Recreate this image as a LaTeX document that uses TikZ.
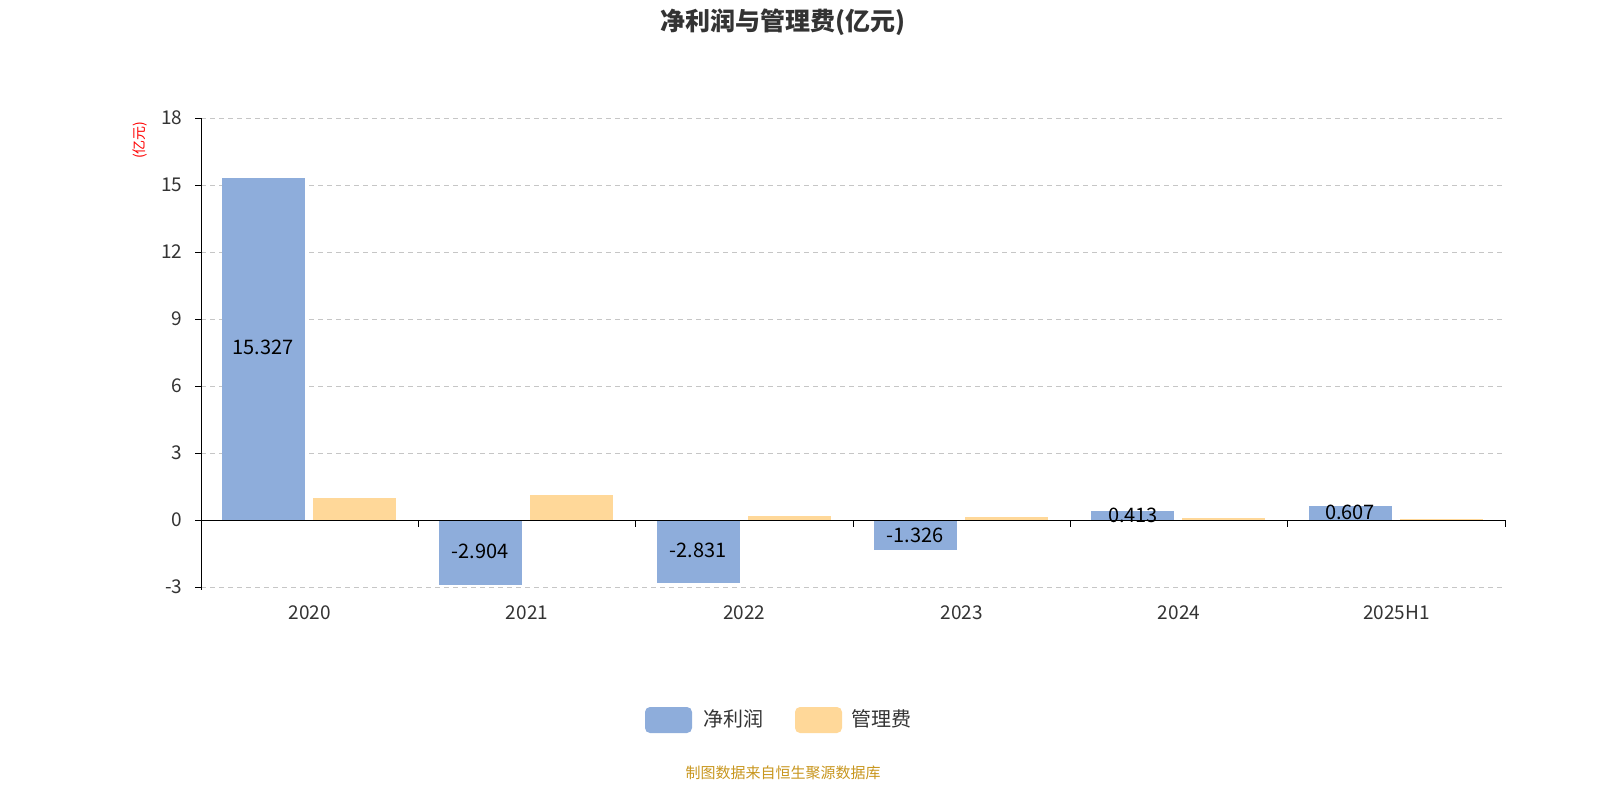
\documentclass[tikz,border=0pt]{standalone}
\usepackage{fontspec}
\setmainfont{Noto Sans CJK SC}
\definecolor{bblue}{HTML}{8EADDB}
\definecolor{borange}{HTML}{FFD899}
\definecolor{txt}{HTML}{333333}
\begin{document}
\begin{tikzpicture}[x=1pt,y=-1pt,
  grid/.style={draw=gray!45,dashed,dash pattern=on 5pt off 4pt,line width=1pt},
  ylab/.style={anchor=east,font=\fontsize{19}{19}\selectfont,text=txt},
  xlab/.style={anchor=center,font=\fontsize{19}{19}\selectfont,text=txt},
  vlab/.style={anchor=center,font=\fontsize{20}{20}\selectfont,text=black},
  blue/.style={fill=bblue,draw=none},
  orng/.style={fill=borange,draw=none}]
\useasboundingbox (0,0) rectangle (1600,800);
\def\u{22.333}
% grid
\foreach \v in {18,15,12,9,6,3,-3}{
  \draw[grid] (201,{520-\v*\u}) -- (1505,{520-\v*\u});
  \node[ylab] at (186,{520-\v*\u}) {\v};
}
\node[ylab] at (186,520) {0};
% bars
\foreach \i/\b/\o/\lab in {0/15.327/0.98/2020,1/-2.904/1.12/2021,2/-2.831/0.2/2022,3/-1.326/0.12/2023,4/0.413/0.08/2024,5/0.607/0.05/2025H1}{
  \pgfmathsetmacro{\gx}{201+\i*217.33}
  \fill[blue] ({\gx+21},520) rectangle ({\gx+104},{520-\b*\u});
  \fill[orng] ({\gx+112},520) rectangle ({\gx+195},{520-\o*\u});
  \node[xlab] at ({\gx+108.7},613) {\lab};
}
% axes
\draw[black,line width=1pt] (201,118) -- (201,590);
\draw[black,line width=1pt] (195,118) -- (201,118);
\foreach \v in {18,15,12,9,6,3,-3}{\draw[black,line width=1pt] (195,{520-\v*\u}) -- (201,{520-\v*\u});}
\draw[black,line width=1pt] (195,520) -- (1505,520);
\foreach \i in {0,...,6}{\draw[black,line width=1pt] ({201+\i*217.33},520) -- ({201+\i*217.33},527);}
% value labels
\node[vlab] (l1) at (263,347) {15.327};
\node[vlab] (l2) at (480,551) {-2.904};
\node[vlab] (l3) at (698,550) {-2.831};
\node[vlab] (l4) at (915,535) {-1.326};
\node[vlab] (l5) at (1133,515) {0.413};
\node[vlab] (l6) at (1350,512) {0.607};
% title etc
\node[font=\fontsize{25}{25}\selectfont\bfseries,text=txt] (title) at (783,22) {净利润与管理费(亿元)};
\node[rotate=90,font=\fontsize{14}{14}\selectfont,text=red] (unit) at (140,140) {(亿元)};
\fill[bblue,rounded corners=5pt] (645,707) rectangle (692,733);
\node[anchor=west,font=\fontsize{20}{20}\selectfont,text=txt] (lg1) at (700,719) {净利润};
\fill[borange,rounded corners=5pt] (795,707) rectangle (842,733);
\node[anchor=west,font=\fontsize{20}{20}\selectfont,text=txt] (lg2) at (848,719) {管理费};
\node[font=\fontsize{15}{15}\selectfont,text={rgb,255:red,200;green,150;blue,30}] (foot) at (783,773) {制图数据来自恒生聚源数据库};
\end{tikzpicture}
\end{document}
